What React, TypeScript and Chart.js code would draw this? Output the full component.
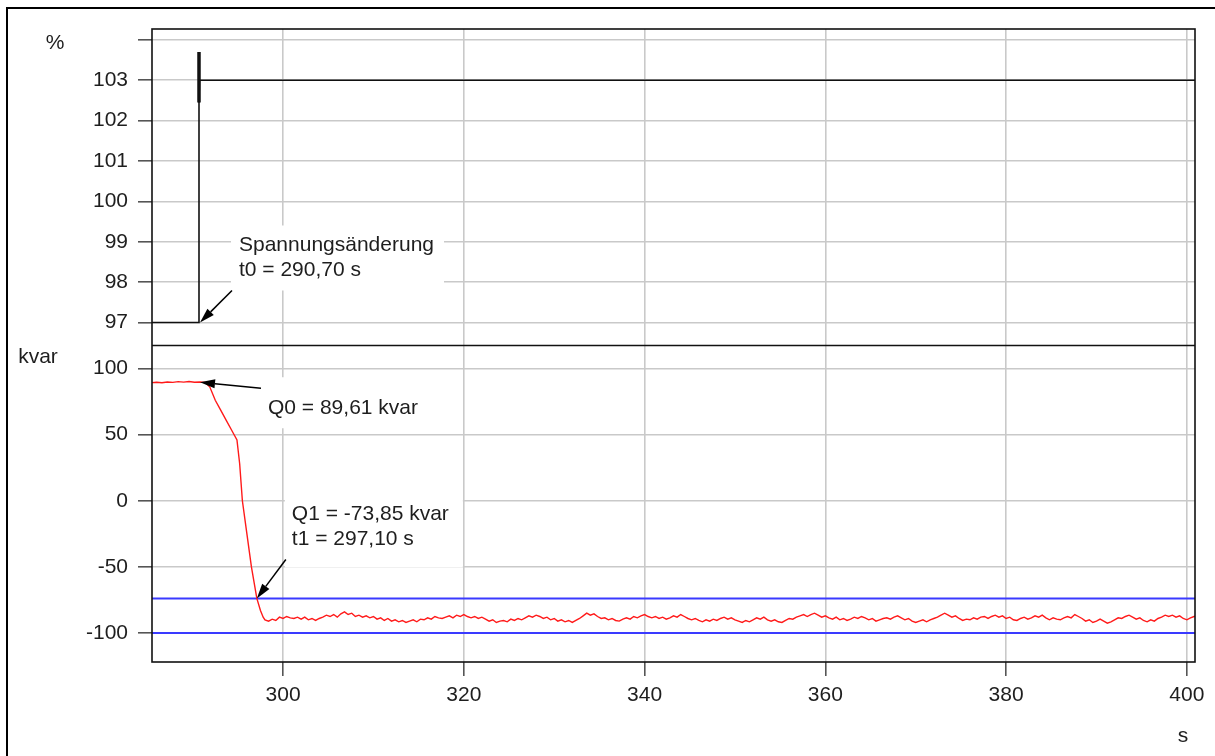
import React, { useEffect, useRef } from 'react';
import { Chart, registerables } from 'chart.js';

Chart.register(...registerables);

// ---- axis ranges and ticks ----
const X_MIN = 285.5;
const X_MAX = 400.9;
const X_TICKS = [300, 320, 340, 360, 380, 400];
const U_MIN = 96.43;
const U_MAX = 104.27;
const U_TICKS = [97, 98, 99, 100, 101, 102, 103, 104];
const Q_MIN = -121.9;
const Q_MAX = 117.4;
const Q_TICKS = [-100, -50, 0, 50, 100];

// ---- voltage (%) ----
const U_TIME = [285.5, 290.7, 290.7, 290.7, 290.75, 400.9];
const U_VALUES = [97, 97, 103.7, 102.45, 103, 103];

// ---- reactive power (kvar) ----
const Q_HEAD_TIME = [285.5, 286, 286.6, 287.2, 287.8, 288.4, 289, 289.6, 290.2, 290.8, 291.4, 291.9, 292.5, 293.1, 293.7, 294.3, 294.9, 295.2, 295.5, 296, 296.5, 297.1, 297.5, 297.8];
const Q_HEAD_VALUES = [89.3, 89.6, 89.2, 89.8, 89.5, 90.1, 89.7, 90.2, 89.6, 89.8, 89.4, 86, 76, 68.5, 61, 53.5, 46, 28, 0, -25, -50, -73.85, -83, -88];
const Q_TAIL_START = 298;
const Q_TAIL_STEP = 0.4;
const Q_TAIL_VALUES = [
  -90, -91, -89.5, -90.5, -88, -89, -87.5, -88.5, -89, -88,
  -89.5, -88, -90, -89, -90.5, -89, -88, -86.5, -87.5, -86,
  -88, -85.5, -84, -86, -85, -87.5, -86.5, -88, -87, -88.5,
  -87.5, -89.5, -88.5, -90.5, -89, -91, -90, -91.5, -90.5, -92,
  -91, -90, -91.5, -89.5, -90, -88.5, -89.5, -87.5, -88.5, -89,
  -88, -87, -88.5, -86.5, -87.5, -86, -87.5, -88.5, -87.5, -89,
  -88, -89.5, -91, -90, -92, -91, -90.5, -91.5, -89.5, -90.5,
  -89, -90, -88.5, -87, -88, -86.5, -87.5, -89, -88, -90,
  -89, -91, -90, -91.5, -90.5, -92, -90.5, -89, -87, -85,
  -86.5, -85.5, -87.5, -89, -88.5, -90, -89, -90.5, -91, -89.5,
  -88.5, -89.5, -87.5, -88.5, -87, -86, -87.5, -88.5, -87.5, -89,
  -88, -89.5, -88.5, -87, -88, -86, -87.5, -89, -90, -89,
  -90.5, -91.5, -90, -91, -89.5, -90.5, -89, -88, -89.5, -88.5,
  -90, -91, -92, -90.5, -91.5, -90, -88.5, -89.5, -88, -90,
  -91, -90, -91.5, -92, -90.5, -89, -89.5, -88, -87, -86,
  -87.5, -86, -85, -86.5, -88, -87, -88.5, -89.5, -88, -90,
  -89, -90.5, -89.5, -88, -89, -87.5, -88.5, -90, -89, -91,
  -90, -89, -88.5, -89.5, -88, -87, -88.5, -90, -89, -91,
  -92, -91, -90, -91.5, -90, -89, -88, -86.5, -85, -86.5,
  -88, -87, -89, -90.5, -89.5, -90, -88.5, -89.5, -88, -87.5,
  -89, -87.5, -86.5, -88, -87, -89, -88, -90, -90.5, -89,
  -88, -89.5, -88.5, -87, -88, -86.5, -88.5, -90, -88.5, -89.5,
  -90, -88.5, -87.5, -88.5, -86, -87.5, -89, -91, -90, -92,
  -91, -89.5, -91, -92.5, -91.5, -90, -88.5, -89, -87.5, -86.5,
  -88, -89.5, -88.5, -90.5, -91.5, -90, -91, -89, -88, -86.5,
  -87.5, -86.5, -88, -87, -89, -90, -88.5, -87.5, -86.5,
];
const Q1_LIMIT = -73.85;
const Q_LOWER = -100;

// ---- annotations ----
const T0 = 290.7;
const U_BEFORE = 97;
const Q0 = 89.61;
const T1 = 297.1;
const ANN_T0 = ['Spannungsänderung', 't0 = 290,70 s'];
const ANN_Q0 = ['Q0 = 89,61 kvar'];
const ANN_Q1 = ['Q1 = -73,85 kvar', 't1 = 297,10 s'];

const FONT = '"Liberation Sans", Arial, Helvetica, sans-serif';
const TEXT_COLOR = '#1e1e1e';
const FONT_SIZE = 21;

function arrow(ctx: CanvasRenderingContext2D, x0: number, y0: number, x1: number, y1: number) {
  const ang = Math.atan2(y1 - y0, x1 - x0);
  const len = 15;
  const half = 4.5;
  const bx = x1 - len * Math.cos(ang);
  const by = y1 - len * Math.sin(ang);
  ctx.strokeStyle = '#000';
  ctx.lineWidth = 1.5;
  ctx.beginPath();
  ctx.moveTo(x0, y0);
  ctx.lineTo(bx, by);
  ctx.stroke();
  ctx.fillStyle = '#000';
  ctx.beginPath();
  ctx.moveTo(x1, y1);
  ctx.lineTo(bx + half * Math.sin(ang), by - half * Math.cos(ang));
  ctx.lineTo(bx - half * Math.sin(ang), by + half * Math.cos(ang));
  ctx.closePath();
  ctx.fill();
}

function text(ctx: CanvasRenderingContext2D, lines: string[], x: number, y: number) {
  ctx.fillStyle = TEXT_COLOR;
  ctx.font = `${FONT_SIZE}px ${FONT}`;
  ctx.textAlign = 'left';
  ctx.textBaseline = 'middle';
  lines.forEach((l, i) => ctx.fillText(l, x, y + i * 25));
}

const decorPlugin = {
  id: 'decor',
  beforeDraw(chart: any) {
    const ctx = chart.ctx as CanvasRenderingContext2D;
    ctx.save();
    ctx.fillStyle = '#fff';
    ctx.fillRect(0, 0, chart.width, chart.height);
    ctx.strokeStyle = '#000';
    ctx.lineWidth = 2;
    ctx.beginPath();
    ctx.moveTo(7, chart.height + 5);
    ctx.lineTo(7, 8);
    ctx.lineTo(chart.width + 5, 8);
    ctx.stroke();
    ctx.restore();
  },
  beforeDatasetsDraw(chart: any) {
    const ctx = chart.ctx as CanvasRenderingContext2D;
    const xs = chart.scales.x, yu = chart.scales.yU, yq = chart.scales.yQ;
    ctx.save();
    ctx.fillStyle = '#fff';
    const p0x = xs.getPixelForValue(T0), p0y = yu.getPixelForValue(U_BEFORE);
    ctx.fillRect(p0x + 32, p0y - 97, 213, 65);
    const q0x = xs.getPixelForValue(T0), q0y = yq.getPixelForValue(Q0);
    ctx.fillRect(q0x + 62, q0y - 5, 175, 51);
    const q1x = xs.getPixelForValue(T1), q1y = yq.getPixelForValue(Q1_LIMIT);
    ctx.fillRect(q1x + 28, q1y - 101, 178, 70);
    ctx.restore();
  },
  afterDatasetsDraw(chart: any) {
    const ctx = chart.ctx as CanvasRenderingContext2D;
    const ca = chart.chartArea;
    const xs = chart.scales.x, yu = chart.scales.yU, yq = chart.scales.yQ;
    ctx.save();
    // frame and divider
    ctx.strokeStyle = '#111';
    ctx.lineWidth = 1.6;
    ctx.strokeRect(ca.left, ca.top, ca.right - ca.left, ca.bottom - ca.top);
    ctx.beginPath();
    ctx.moveTo(ca.left, yq.top);
    ctx.lineTo(ca.right, yq.top);
    ctx.stroke();

    // annotation 1
    const p0x = xs.getPixelForValue(T0), p0y = yu.getPixelForValue(U_BEFORE);
    arrow(ctx, p0x + 33, p0y - 32, p0x + 1, p0y);
    text(ctx, ANN_T0, p0x + 40, p0y - 77);
    // annotation 2
    const q0x = xs.getPixelForValue(T0), q0y = yq.getPixelForValue(Q0);
    arrow(ctx, q0x + 62, q0y + 6, q0x + 1, q0y);
    text(ctx, ANN_Q0, q0x + 69, q0y + 26);
    // annotation 3
    const q1x = xs.getPixelForValue(T1), q1y = yq.getPixelForValue(Q1_LIMIT);
    arrow(ctx, q1x + 29, q1y - 39, q1x, q1y);
    text(ctx, ANN_Q1, q1x + 35, q1y - 84);

    // axis unit labels
    ctx.fillStyle = TEXT_COLOR;
    ctx.font = `${FONT_SIZE}px ${FONT}`;
    ctx.textAlign = 'center';
    ctx.textBaseline = 'middle';
    ctx.fillText('%', 55, yu.top + 14);
    ctx.fillText('kvar', 38, yq.top + 12);
    ctx.fillText('s', 1183, 736);
    ctx.restore();
  },
};

export default function App() {
  const canvasRef = useRef<HTMLCanvasElement | null>(null);

  useEffect(() => {
    const canvas = canvasRef.current;
    if (!canvas) return;

    const uData = U_TIME.map((t, i) => ({ x: t, y: U_VALUES[i] }));
    const qData = [
      ...Q_HEAD_TIME.map((t, i) => ({ x: t, y: Q_HEAD_VALUES[i] })),
      ...Q_TAIL_VALUES.map((v, i) => ({ x: Q_TAIL_START + i * Q_TAIL_STEP, y: v })),
    ];

    const tickFont = { family: FONT, size: FONT_SIZE };
    const gridCommon = {
      color: '#c9c9c9',
      lineWidth: 1.6,
      tickLength: 14,
      tickColor: '#555',
      tickWidth: 1.6,
    };

    const chart = new Chart(canvas, {
      type: 'line',
      data: {
        datasets: [
          {
            data: qData,
            yAxisID: 'yQ',
            borderColor: '#ff1a1a',
            borderWidth: 1.4,
            pointRadius: 0,
            tension: 0,
          },
          {
            data: uData,
            yAxisID: 'yU',
            borderColor: '#111',
            borderWidth: 1.6,
            pointRadius: 0,
            tension: 0,
            segment: {
              borderWidth: (c: any) => (c.p0DataIndex === 2 ? 3.5 : 1.6),
            },
          } as any,
          {
            data: [{ x: X_MIN, y: Q1_LIMIT }, { x: X_MAX, y: Q1_LIMIT }],
            yAxisID: 'yQ',
            borderColor: '#3a3aff',
            borderWidth: 2,
            pointRadius: 0,
          },
          {
            data: [{ x: X_MIN, y: Q_LOWER }, { x: X_MAX, y: Q_LOWER }],
            yAxisID: 'yQ',
            borderColor: '#3a3aff',
            borderWidth: 2,
            pointRadius: 0,
          },
        ],
      },
      options: {
        animation: false,
        responsive: false,
        devicePixelRatio: 1,
        layout: { padding: { top: 29, right: 20, left: 0, bottom: 0 } },
        plugins: {
          legend: { display: false },
          tooltip: { enabled: false },
        },
        scales: {
          x: {
            type: 'linear',
            position: 'bottom',
            min: X_MIN,
            max: X_MAX,
            afterBuildTicks: (s: any) => {
              s.ticks = X_TICKS.map((v) => ({ value: v }));
            },
            afterFit: (s: any) => {
              s.height = 94;
            },
            grid: gridCommon,
            border: { display: false },
            ticks: {
              font: tickFont,
              color: TEXT_COLOR,
              padding: 7,
              maxRotation: 0,
              autoSkip: false,
              callback: (v: any) => String(v),
            },
          },
          yU: {
            type: 'linear',
            position: 'left',
            stack: 'panels',
            stackWeight: 1,
            weight: 2,
            min: U_MIN,
            max: U_MAX,
            afterBuildTicks: (s: any) => {
              s.ticks = U_TICKS.map((v) => ({ value: v }));
            },
            afterFit: (s: any) => {
              s.width = 152;
            },
            grid: gridCommon,
            border: { display: false },
            ticks: {
              font: tickFont,
              color: TEXT_COLOR,
              padding: 10,
              autoSkip: false,
              callback: (v: any) => (v === 104 ? '' : String(v)),
            },
          },
          yQ: {
            type: 'linear',
            position: 'left',
            stack: 'panels',
            stackWeight: 1,
            weight: 1,
            min: Q_MIN,
            max: Q_MAX,
            afterBuildTicks: (s: any) => {
              s.ticks = Q_TICKS.map((v) => ({ value: v }));
            },
            afterFit: (s: any) => {
              s.width = 152;
            },
            grid: gridCommon,
            border: { display: false },
            ticks: {
              font: tickFont,
              color: TEXT_COLOR,
              padding: 10,
              autoSkip: false,
              callback: (v: any) => String(v),
            },
          },
        },
      } as any,
      plugins: [decorPlugin],
    });

    return () => {
      chart.destroy();
    };
  }, []);

  return (
    <div style={{ position: 'absolute', left: 0, top: 0, width: 1215, height: 756, background: '#fff' }}>
      <canvas ref={canvasRef} width={1215} height={756} style={{ display: 'block' }} />
    </div>
  );
}
